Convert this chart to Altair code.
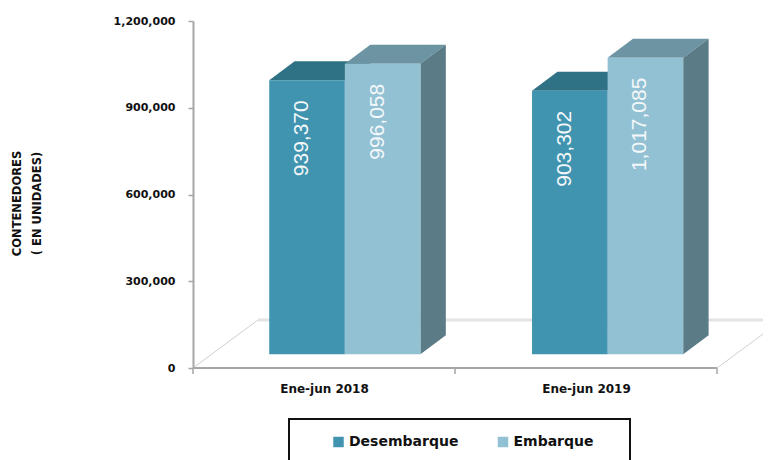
import altair as alt
import pandas as pd

# ---- chart values
periods = ["Ene-jun 2018", "Ene-jun 2019"]
series = ["Desembarque", "Embarque"]
desembarque = [939370, 903302]
embarque = [996058, 1017085]
y_ticks = [0, 300000, 600000, 900000, 1200000]
y_title = ["CONTENEDORES", "( EN UNIDADES)"]

# ---- colours
front = ["#4094B0", "#92C1D3"]
top = ["#2F7185", "#6C94A3"]
side = ["#2F6C80", "#5B7B87"]

# ---- pseudo 3-D projection, in data units of the two scales
X_MAX = 2.1756         # the floor runs off the picture on the right
BAR_LEFT = [0.291, 1.294]
BAR_W = 0.2885
DEPTH_X = 0.097
DEPTH_Y = 65700
BASE = 47400
STRETCH = 1.0087
FLOOR_X = 0.248
FLOOR_Y = 166000

FONT = "DejaVu Sans"
x_scale = alt.Scale(domain=[0, X_MAX], nice=False, zero=False)
y_scale = alt.Scale(domain=[0, 1200000], nice=False)

# every layer carries the same axis definition, so that they merge into one
label_expr = "datum.value < 1 ? '" + periods[0] + "' : '" + periods[1] + "'"
x_axis = alt.Axis(
    title=None, values=[0.5, 1.5], labelExpr=label_expr, ticks=False,
    domain=False, grid=False, labelFont=FONT, labelFontSize=12,
    labelFontWeight="bold", labelColor="#111111", labelPadding=15,
    labelFlush=False,
)
y_axis = alt.Axis(
    title=y_title, values=y_ticks, format=",d", grid=False,
    domainColor="#A6A6A6", domainWidth=2, tickColor="#A6A6A6", tickWidth=1.5,
    tickSize=5, labelFont=FONT, labelFontSize=11, labelFontWeight="bold",
    labelColor="#111111", labelPadding=13,
    titleFont=FONT, titleFontSize=11.5, titleFontWeight="bold",
    titleColor="#111111", titleX=-171, titleY=182, titleLineHeight=20,
)
X = alt.X("x:Q", scale=x_scale, axis=x_axis)
Y = alt.Y("y:Q", scale=y_scale, axis=y_axis)


def area(rows, color):
    return alt.Chart(pd.DataFrame(rows, columns=["x", "y", "y2"])).mark_area(
        color=color, line=False, opacity=1
    ).encode(x=X, y=Y, y2="y2:Q")


def line(points, color, width):
    return alt.Chart(pd.DataFrame(points, columns=["x", "y"])).mark_line(
        color=color, strokeWidth=width
    ).encode(x=X, y=Y)


values = [desembarque, embarque]
layers = []

# floor
slope = FLOOR_Y / FLOOR_X
layers.append(line([[0, 0], [FLOOR_X, FLOOR_Y]], "#CFCFCF", 1))
layers.append(line([[2, 0], [X_MAX, (X_MAX - 2) * slope]], "#CFCFCF", 1))
layers.append(line([[FLOOR_X, FLOOR_Y], [X_MAX, FLOOR_Y]], "#E4E4E4", 3))

# frame around the legend (its lower edge lies below the picture)
layers.append(
    alt.Chart(pd.DataFrame({"a": [0]})).mark_rect(
        fill="white", stroke="#111111", strokeWidth=2
    ).encode(
        x=alt.value(96), x2=alt.value(437), y=alt.value(398), y2=alt.value(450)
    )
)

# bars: back faces first, then fronts, series by series
rows_label = []
for p, period in enumerate(periods):
    for s, name in enumerate(series):
        v = values[s][p]
        x0 = BAR_LEFT[p] + s * BAR_W
        x1 = x0 + BAR_W
        h = BASE + v * STRETCH
        # top face
        layers.append(area(
            [[x0, h, h], [x0 + DEPTH_X, h, h + DEPTH_Y],
             [x1, h, h + DEPTH_Y], [x1 + DEPTH_X, h + DEPTH_Y, h + DEPTH_Y]],
            top[s]))
        # side face
        layers.append(area(
            [[x1, BASE, h], [x1 + DEPTH_X, BASE + DEPTH_Y, h + DEPTH_Y]],
            side[s]))
        # front face
        layers.append(
            alt.Chart(pd.DataFrame([{
                "x": x0, "x2": x1, "y": BASE, "y2": h, "Serie": name}])).mark_rect(
            ).encode(
                x=X,
                x2="x2:Q",
                y=Y,
                y2="y2:Q",
                color=alt.Color(
                    "Serie:N",
                    scale=alt.Scale(domain=series, range=front),
                    legend=alt.Legend(
                        title=None, orient="none", legendX=138.5, legendY=414,
                        direction="horizontal", columns=2, columnPadding=37.5,
                        symbolType="square", symbolSize=110, symbolStrokeWidth=0,
                        labelFont=FONT, labelFontSize=14, labelFontWeight="bold",
                        labelColor="#111111", labelOffset=3.5, labelLimit=200,
                    ),
                ),
            )
        )
        rows_label.append({"x": (x0 + x1) / 2, "y": h, "t": f"{v:,}"})

# value labels
layers.append(
    alt.Chart(pd.DataFrame(rows_label)).mark_text(
        angle=270, align="right", baseline="middle", dx=-20, dy=-5,
        font="Liberation Sans", fontSize=21, color="#F4F8FA"
    ).encode(x=X, y=Y, text="t:N")
)

# x-axis line and ticks
layers.append(line([[0, 0], [2, 0]], "#A6A6A6", 2))
layers.append(
    alt.Chart(pd.DataFrame({"x": [0, 1, 2]})).mark_rule(
        color="#A6A6A6", strokeWidth=1.5
    ).encode(
        x=X,
        y=alt.value(347),
        y2=alt.value(353),
    )
)

chart = alt.layer(*layers).properties(
    width=570,
    height=347,
    background="white",
    padding={"left": 185, "top": 13, "right": 0, "bottom": 92},
    autosize=alt.AutoSizeParams(type="none"),
).configure_view(stroke=None)

chart.save("out.html", embed_options={"renderer": "svg", "actions": False})
